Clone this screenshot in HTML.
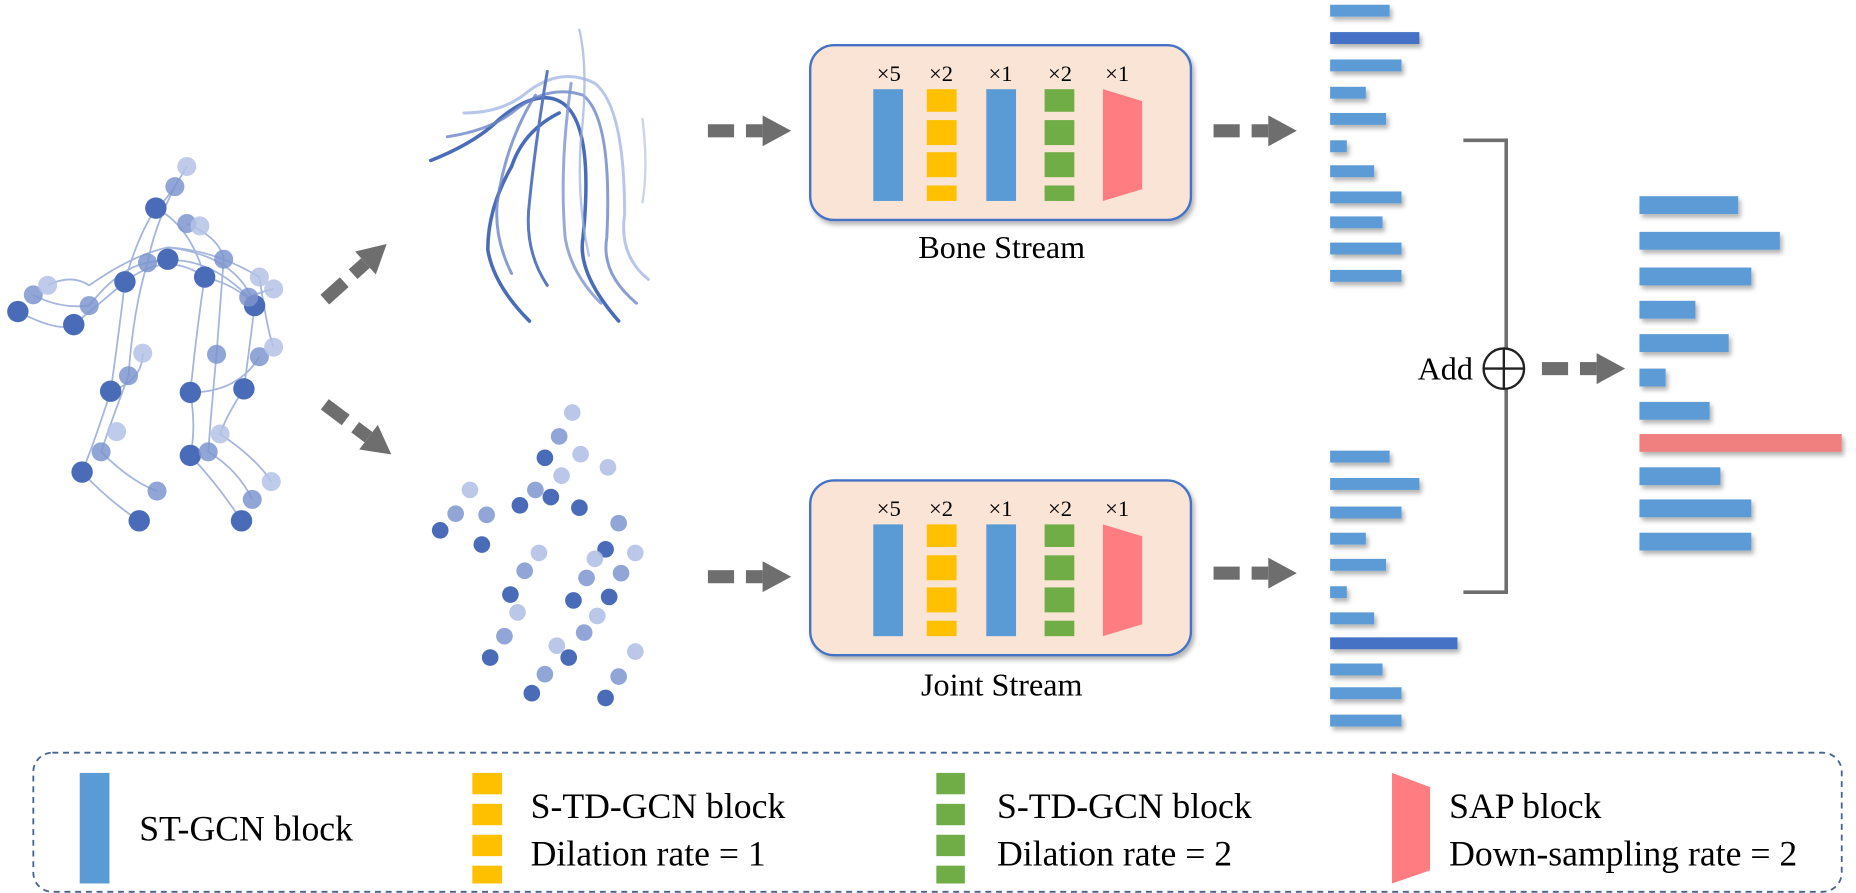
<!DOCTYPE html>
<html><head><meta charset="utf-8"><style>html,body{margin:0;padding:0;background:#fff}svg{display:block}</style></head>
<body>
<svg width="1856" height="893" viewBox="0 0 1560 751" preserveAspectRatio="none" xmlns="http://www.w3.org/2000/svg" font-family="Liberation Serif, serif">
<defs>
<filter id="sh" x="-10%" y="-10%" width="130%" height="130%"><feDropShadow dx="2" dy="3" stdDeviation="2" flood-color="#000" flood-opacity="0.3"/></filter>
<g id="arr"><rect x="0" y="-5.5" width="22" height="11" fill="#6e6e6e"/><rect x="32" y="-5.5" width="14" height="11" fill="#6e6e6e"/><polygon points="46,-13 70,0 46,13" fill="#6e6e6e"/></g>
<g id="box">
<rect x="0" y="0" width="320" height="147" rx="20" fill="#fae4d6" stroke="#4472c4" stroke-width="2" filter="url(#sh)"/>
<g font-size="19" text-anchor="middle" fill="#000"><text x="66" y="30">×5</text><text x="110" y="30">×2</text><text x="160" y="30">×1</text><text x="210" y="30">×2</text><text x="258" y="30">×1</text></g>
<rect x="53" y="37" width="25" height="94" fill="#5b9bd5"/>
<g fill="#ffc000"><rect x="98" y="37" width="25" height="19"/><rect x="98" y="63" width="25" height="21"/><rect x="98" y="90" width="25" height="21"/><rect x="98" y="118" width="25" height="13"/></g>
<rect x="148" y="37" width="25" height="94" fill="#5b9bd5"/>
<g fill="#70ad47"><rect x="197" y="37" width="25" height="19"/><rect x="197" y="63" width="25" height="21"/><rect x="197" y="90" width="25" height="21"/><rect x="197" y="118" width="25" height="13"/></g>
<polygon points="246,37 279,47 279,121 246,131" fill="#ff7c80"/>
</g>
</defs>

<g fill="none" stroke="#8fa3d6" stroke-width="1.5" opacity="0.8">
<path d="M157,140 Q140,170 131,175 Q115,200 105,237 Q100,280 93,329 Q80,370 69,397 Q90,420 117,438"/>
<path d="M147,157 Q130,190 124,221 Q112,260 108,316 Q95,350 85,380 Q110,405 132,413"/>
<path d="M131,175 Q160,190 172,233 Q165,280 160,330 Q165,360 160,383 Q185,410 203,438"/>
<path d="M157,188 Q185,200 188,218 Q185,260 182,298 Q178,340 175,380 Q200,395 212,420"/>
<path d="M141,208 Q200,215 214,257 Q210,290 205,327 Q190,350 185,365 Q215,385 228,405"/>
<path d="M15,262 Q50,280 62,273 Q90,250 105,237 Q140,210 172,233 Q200,240 214,257"/>
<path d="M28,248 Q50,260 75,257 Q100,225 124,221 Q170,210 209,250 Q220,245 230,243"/>
<path d="M40,240 Q60,230 75,240 Q110,215 141,208 Q180,210 218,233 Q225,280 230,292"/>
<path d="M93,329 Q120,320 120,297 M160,330 Q200,330 218,300"/>
</g>
<g>
<g fill="#4a6cb8"><circle cx="131" cy="175" r="9"/><circle cx="105" cy="237" r="9"/><circle cx="172" cy="233" r="9"/><circle cx="15" cy="262" r="9"/><circle cx="62" cy="273" r="9"/><circle cx="93" cy="329" r="9"/><circle cx="160" cy="330" r="9"/><circle cx="205" cy="327" r="9"/><circle cx="214" cy="257" r="9"/><circle cx="69" cy="397" r="9"/><circle cx="160" cy="383" r="9"/><circle cx="117" cy="438" r="9"/><circle cx="203" cy="438" r="9"/><circle cx="141" cy="218" r="9"/></g>
<g fill="#7e96cf" opacity="0.85"><circle cx="147" cy="157" r="8"/><circle cx="124" cy="221" r="8"/><circle cx="157" cy="188" r="8"/><circle cx="188" cy="218" r="8"/><circle cx="75" cy="257" r="8"/><circle cx="28" cy="248" r="8"/><circle cx="209" cy="250" r="8"/><circle cx="108" cy="316" r="8"/><circle cx="182" cy="298" r="8"/><circle cx="218" cy="300" r="8"/><circle cx="85" cy="380" r="8"/><circle cx="132" cy="413" r="8"/><circle cx="212" cy="420" r="8"/><circle cx="175" cy="380" r="8"/></g>
<g fill="#b4c2e6" opacity="0.85"><circle cx="157" cy="140" r="8"/><circle cx="40" cy="240" r="8"/><circle cx="120" cy="297" r="8"/><circle cx="218" cy="233" r="8"/><circle cx="230" cy="243" r="8"/><circle cx="230" cy="292" r="8"/><circle cx="98" cy="363" r="8"/><circle cx="185" cy="365" r="8"/><circle cx="228" cy="405" r="8"/><circle cx="168" cy="190" r="8"/></g>
</g>

<g fill="none" stroke-linecap="round">
<path d="M362,135 Q400,120 420,100 Q450,75 470,85 Q500,100 490,200 Q485,230 520,270" stroke="#4a6cb8" stroke-width="3"/>
<path d="M376,115 Q410,110 430,95 Q460,70 490,80 Q515,100 510,200 Q505,230 535,255" stroke="#6c85c8" stroke-width="2.5" opacity="0.8"/>
<path d="M390,95 Q420,95 440,80 Q470,55 500,70 Q525,90 525,180 Q520,215 545,235" stroke="#9aafdf" stroke-width="2.5" opacity="0.7"/>
<path d="M470,95 Q440,110 430,140 Q410,175 410,210 Q415,240 445,270" stroke="#4a6cb8" stroke-width="3"/>
<path d="M460,60 Q450,120 445,170 Q440,210 460,240" stroke="#5b78c2" stroke-width="2.5"/>
<path d="M480,70 Q470,140 475,200 Q480,230 505,255" stroke="#7d93cf" stroke-width="2.5" opacity="0.8"/>
<path d="M487,25 Q495,60 488,120 Q485,170 495,215" stroke="#9aafdf" stroke-width="2" opacity="0.7"/>
<path d="M450,80 Q425,120 418,170 Q415,200 430,230" stroke="#6c85c8" stroke-width="2.5" opacity="0.8"/>
<path d="M540,100 Q545,140 540,170" stroke="#b4c2e6" stroke-width="2" opacity="0.7"/>
</g>

<g>
<g fill="#4a6cb8"><circle cx="458" cy="385" r="7"/><circle cx="463" cy="418" r="7"/><circle cx="487" cy="427" r="7"/><circle cx="437" cy="425" r="7"/><circle cx="370" cy="446" r="7"/><circle cx="405" cy="458" r="7"/><circle cx="509" cy="462" r="7"/><circle cx="429" cy="500" r="7"/><circle cx="482" cy="505" r="7"/><circle cx="512" cy="502" r="7"/><circle cx="412" cy="553" r="7"/><circle cx="478" cy="553" r="7"/><circle cx="447" cy="583" r="7"/><circle cx="509" cy="587" r="7"/></g>
<g fill="#7e96cf" opacity="0.85"><circle cx="470" cy="367" r="7"/><circle cx="450" cy="412" r="7"/><circle cx="383" cy="432" r="7"/><circle cx="409" cy="433" r="7"/><circle cx="520" cy="440" r="7"/><circle cx="441" cy="480" r="7"/><circle cx="493" cy="486" r="7"/><circle cx="522" cy="482" r="7"/><circle cx="424" cy="535" r="7"/><circle cx="491" cy="532" r="7"/><circle cx="458" cy="567" r="7"/><circle cx="520" cy="569" r="7"/></g>
<g fill="#b4c2e6" opacity="0.9"><circle cx="481" cy="347" r="7"/><circle cx="488" cy="382" r="7"/><circle cx="511" cy="393" r="7"/><circle cx="472" cy="400" r="7"/><circle cx="395" cy="412" r="7"/><circle cx="534" cy="465" r="7"/><circle cx="453" cy="465" r="7"/><circle cx="500" cy="470" r="7"/><circle cx="435" cy="515" r="7"/><circle cx="502" cy="518" r="7"/><circle cx="468" cy="543" r="7"/><circle cx="534" cy="548" r="7"/></g>
</g>

<use href="#arr" transform="translate(273,252) rotate(-42)"/>
<use href="#arr" transform="translate(273,340) rotate(37)"/>
<use href="#arr" transform="translate(595,110)"/>
<use href="#arr" transform="translate(1020,110)"/>
<use href="#arr" transform="translate(595,485)"/>
<use href="#arr" transform="translate(1020,482)"/>
<use href="#arr" transform="translate(1296,310)"/>

<use href="#box" transform="translate(681,38)"/>
<use href="#box" transform="translate(681,404)"/>
<text x="842" y="217" font-size="27" text-anchor="middle">Bone Stream</text>
<text x="842" y="585" font-size="27" text-anchor="middle">Joint Stream</text>

<g fill="#5b9bd5" filter="url(#sh)">
<rect x="1118" y="4" width="50" height="10"/><rect x="1118" y="27" width="75" height="10" fill="#4472c4"/><rect x="1118" y="50" width="60" height="10"/><rect x="1118" y="73" width="30" height="10"/><rect x="1118" y="95" width="47" height="10"/><rect x="1118" y="118" width="14" height="10"/><rect x="1118" y="139" width="37" height="10"/><rect x="1118" y="161" width="60" height="10"/><rect x="1118" y="182" width="44" height="10"/><rect x="1118" y="204" width="60" height="10"/><rect x="1118" y="227" width="60" height="10"/>
<rect x="1118" y="379" width="50" height="10"/><rect x="1118" y="402" width="75" height="10"/><rect x="1118" y="426" width="60" height="10"/><rect x="1118" y="448" width="30" height="10"/><rect x="1118" y="470" width="47" height="10"/><rect x="1118" y="493" width="14" height="10"/><rect x="1118" y="515" width="37" height="10"/><rect x="1118" y="536" width="107" height="10" fill="#4472c4"/><rect x="1118" y="558" width="44" height="10"/><rect x="1118" y="578" width="60" height="10"/><rect x="1118" y="601" width="60" height="10"/>
<rect x="1378" y="165" width="83" height="15"/><rect x="1378" y="195" width="118" height="15"/><rect x="1378" y="225" width="94" height="15"/><rect x="1378" y="253" width="47" height="15"/><rect x="1378" y="281" width="75" height="15"/><rect x="1378" y="310" width="22" height="15"/><rect x="1378" y="338" width="59" height="15"/><rect x="1378" y="365" width="170" height="15" fill="#f08080"/><rect x="1378" y="393" width="68" height="15"/><rect x="1378" y="420" width="94" height="15"/><rect x="1378" y="448" width="94" height="15"/>
</g>

<path d="M1230,118 H1266 V498 H1230" fill="none" stroke="#6e6e6e" stroke-width="3"/>
<circle cx="1264" cy="310" r="17" fill="#fff" stroke="#222" stroke-width="2"/>
<path d="M1247,310 H1281 M1264,293 V327" stroke="#222" stroke-width="2"/>
<text x="1238" y="319" font-size="27" text-anchor="end">Add</text>

<rect x="28" y="633" width="1520" height="117" rx="16" fill="none" stroke="#44628f" stroke-width="1.5" stroke-dasharray="5,4"/>
<rect x="67" y="650" width="25" height="93" fill="#5b9bd5"/>
<g fill="#ffc000"><rect x="397" y="650" width="25" height="18"/><rect x="397" y="676" width="25" height="18"/><rect x="397" y="702" width="25" height="18"/><rect x="397" y="728" width="25" height="15"/></g>
<g fill="#70ad47"><rect x="787" y="650" width="24" height="18"/><rect x="787" y="676" width="24" height="18"/><rect x="787" y="702" width="24" height="18"/><rect x="787" y="728" width="24" height="15"/></g>
<polygon points="1170,650 1202,662 1202,732 1170,743" fill="#ff7c80"/>
<g font-size="30" fill="#000">
<text x="117" y="707">ST-GCN block</text>
<text x="446" y="688">S-TD-GCN block</text><text x="446" y="728">Dilation rate = 1</text>
<text x="838" y="688">S-TD-GCN block</text><text x="838" y="728">Dilation rate = 2</text>
<text x="1218" y="688">SAP block</text><text x="1218" y="728">Down-sampling rate = 2</text>
</g>
</svg>
</body></html>
